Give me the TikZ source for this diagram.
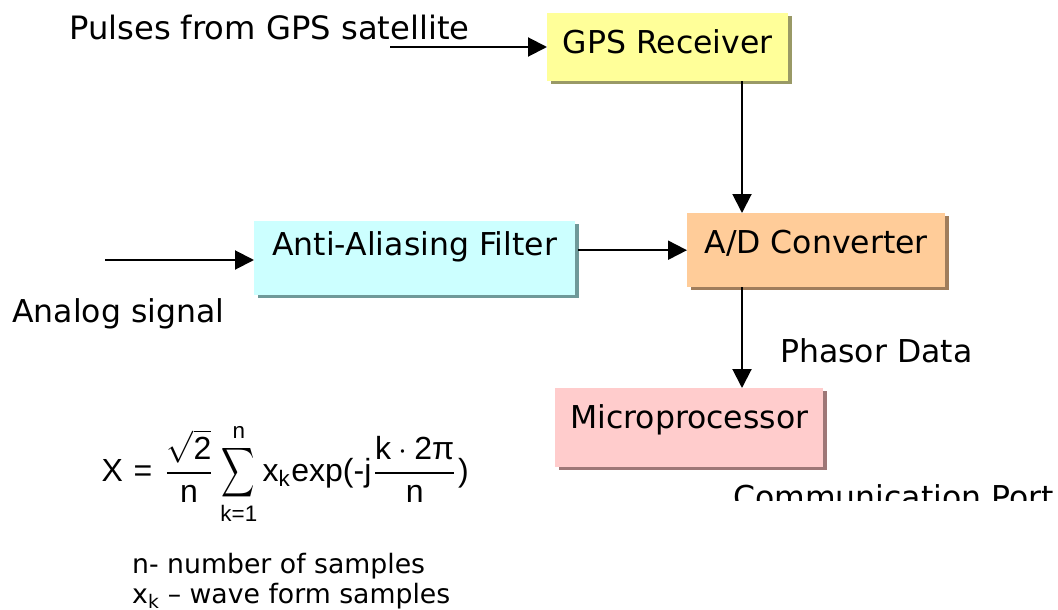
\documentclass[tikz,border=0pt]{standalone}
\usepackage{amsmath}
\usepackage{graphicx}
\usepackage{fontspec}
\setmainfont{DejaVu Sans}
\newfontfamily\formfont{Liberation Sans}
\usetikzlibrary{arrows.meta,shadows,calc}
\newcommand\lblfont{\fontsize{31.5}{36}\selectfont}
\newcommand\notefont{\fontsize{26.7}{30}\selectfont}
\newcommand\narrowsum{\mathop{\scalebox{0.72}[1.08]{$\displaystyle\sum$}}\limits}
\definecolor{gpsfill}{HTML}{FFFF99}
\definecolor{gpsshadow}{HTML}{999966}
\definecolor{aaffill}{HTML}{CCFFFF}
\definecolor{aafshadow}{HTML}{6F9999}
\definecolor{adfill}{HTML}{FFCC99}
\definecolor{adshadow}{HTML}{A07D5C}
\definecolor{mpfill}{HTML}{FFCCCC}
\definecolor{mpshadow}{HTML}{9E7777}
\tikzset{
  lbl/.style={font=\lblfont, inner sep=0pt, anchor=base west},
  note/.style={font=\notefont, inner sep=0pt, anchor=base west},
  box/.style={draw=none, inner xsep=0pt, inner ysep=0pt, anchor=north west, font=\lblfont},
  shade4/.style={drop shadow={shadow xshift=4pt, shadow yshift=-3pt, fill=#1, opacity=1}},
  conn/.style={line width=2pt, -{Triangle[length=19pt,width=19pt]}},
}
\begin{document}
\begin{tikzpicture}[x=1pt,y=-1pt]
\useasboundingbox (0,0) rectangle (1058,610);
\fill[white] (0,0) rectangle (1058,610);

% boxes
\node[box, fill=gpsfill, shade4=gpsshadow, minimum width=241pt, text height=40pt, text depth=28pt] (gps) at (547,13) {GPS Receiver};
\node[box, fill=aaffill, shade4=aafshadow, minimum width=321pt, text height=34pt, text depth=40pt] (aaf) at (254,221) {Anti-Aliasing Filter};
\node[box, fill=adfill, shade4=adshadow, minimum width=258pt, text height=40pt, text depth=34pt] (ad) at (687,213) {A/D Converter};
\node[box, fill=mpfill, shade4=mpshadow, minimum width=268pt, text height=40pt, text depth=39pt] (mp) at (555,388) {Microprocessor};

% labels
\node[lbl, font=\fontsize{32.2}{36}\selectfont] (pulses) at (69,40) {Pulses from GPS satellite};
\node[lbl] (analog) at (12,322) {Analog signal};
\node[lbl] (phasor) at (780,362) {Phasor Data};
\begin{scope}
  \clip (0,0) rectangle (1058,500);
  \node[lbl] (comm) at (733,508) {Communication Port};
\end{scope}

% connectors
\coordinate (pin) at (390,47);
\coordinate (ain) at (105,260);
\coordinate (vx) at ($(ad.north west)+(55,0)$);
\draw[conn] (pin) -- (pin -| gps.west);
\draw[conn] (ain) -- (ain -| aaf.west);
\draw[conn] ([xshift=3pt]aaf.east |- ad.west) -- (ad.west);
\draw[conn] (gps.south -| vx) -- (vx);
\draw[conn] (ad.south -| vx) -- (mp.north -| vx);

% formula
\node[scale=3.2, inner sep=0pt, anchor=base west] (formula) at (101,481) {\formfont\fontsize{10}{12}\selectfont $\displaystyle \text{X}\mskip6mu\text{=}\mskip6mu\frac{\sqrt{\text{2}}}{\text{n}}\narrowsum_{\text{k=1}}^{\text{n}}\text{x}_{\text{k}}\text{exp(-j}\frac{\text{k}\mskip4mu{\cdot}\mskip4mu\text{2π}}{\text{n}}\text{)}$};

\node[note] (n1) at (132,573) {n- number of samples};
\node[note] (n2) at (132,603) {x\textsubscript{k} – wave form samples};
\end{tikzpicture}
\end{document}
